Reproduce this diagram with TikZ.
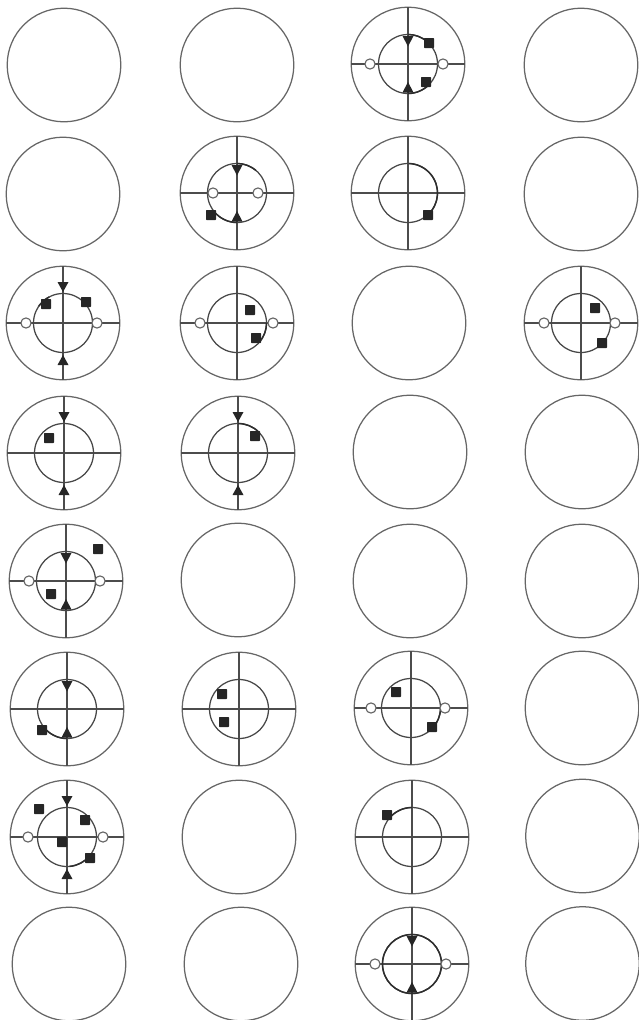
\documentclass[tikz,border=0pt]{standalone}
\tikzset{
  x=1pt,y=1pt,
  outerring/.style={draw=black!60,line width=1.25pt},
  innerring/.style={draw=black!72,line width=1.25pt},
  axis/.style={draw=black!70,line width=1.1pt},
  heavy/.style={draw=black!82,line width=1.5pt},
  sq/.style={fill=black!85,draw=none,rounded corners=0.6pt},
  tri/.style={fill=black!85,draw=none},
  hollow/.style={draw=black!62,line width=1.1pt,fill=white},
  pics/blank/.style={code={\path[outerring] (0,0) circle[radius=56.8];}},
  pics/dial/.style={code={
    \path[outerring] (0,0) circle[radius=56.8];
    \path[axis] (-57,0) -- (57,0) (0,-57) -- (0,57);
    \path[innerring] (0,0) circle[radius=29.5];
  }},
  pics/sqm/.style={code={\fill[sq] (-5,-5) rectangle (5,5);}},
  pics/opn/.style={code={\path[hollow] (0,0) circle[radius=5.1];}},
  pics/trisin/.style={code={
    \fill[tri] (-5.5,28) -- (5.5,28) -- (0,17.5) -- cycle;
    \fill[tri] (-5.5,-28.5) -- (5.5,-28.5) -- (0,-18) -- cycle;
  }},
  pics/trisout/.style={code={
    \fill[tri] (-5.5,41) -- (5.5,41) -- (0,31) -- cycle;
    \fill[tri] (-5.5,-42) -- (5.5,-42) -- (0,-32) -- cycle;
  }},
}
\newcommand{\Blank}[2]{\pic at (#1,-#2) {blank};}
\newcommand{\Dial}[2]{\pic at (#1,-#2) {dial};}
\newcommand{\Sq}[4]{\pic at ({#1+#3},{-#2+#4}) {sqm};}
\newcommand{\Op}[3]{\pic at ({#1+#3},-#2) {opn};}
\newcommand{\Arc}[4]{\path[heavy] ({#1+29.5*cos(#3)},{-#2+29.5*sin(#3)}) arc[start angle=#3,end angle=#4,radius=29.5];}
\begin{document}
\begin{tikzpicture}
\useasboundingbox (0,0) rectangle (639,-1020);
% row 1
\Blank{64}{65}\Blank{237}{65}\Blank{581}{65}
\Dial{408}{64}
\Arc{408}{64}{-90}{-40}\Arc{408}{64}{50}{90}
\Op{408}{64}{-38}\Op{408}{64}{35}
\pic at (408,-64) {trisin};
\Sq{408}{64}{21}{21}\Sq{408}{64}{18}{-18}
% row 2
\Blank{63}{194}\Blank{581}{194}
\Dial{237}{193}
\Arc{237}{193}{-90}{-140}\Arc{237}{193}{50}{90}
\Op{237}{193}{-24}\Op{237}{193}{21}
\pic at (237,-193) {trisin};
\Sq{237}{193}{-26}{-22}
\Dial{408}{193}
\Arc{408}{193}{-48}{88}
\Sq{408}{193}{20}{-22}
% row 3
\Dial{63}{323}
\Arc{63}{323}{118}{145}
\pic at (63,-323) {trisout};
\Op{63}{323}{-37}\Op{63}{323}{34}
\Sq{63}{323}{-17}{19}\Sq{63}{323}{23}{21}
\Dial{237}{323}
\Arc{237}{323}{-40}{0}
\Op{237}{323}{-37}\Op{237}{323}{36}
\Sq{237}{323}{13}{13}\Sq{237}{323}{19}{-15}
\Blank{409}{323}
\Dial{581}{323}
\Op{581}{323}{-37}\Op{581}{323}{34}
\Sq{581}{323}{14}{15}\Sq{581}{323}{21}{-20}
% row 4
\Dial{64}{453}
\pic at (64,-453) {trisout};
\Sq{64}{453}{-15}{15}
\Dial{238}{453}
\Arc{238}{453}{45}{90}
\pic at (238,-453) {trisout};
\Sq{238}{453}{17}{17}
\Blank{410}{452}\Blank{582}{452}
% row 5
\Dial{66}{581}
\pic at (66,-581) {trisin};
\Op{66}{581}{-37}\Op{66}{581}{34}
\Sq{66}{581}{32}{32}\Sq{66}{581}{-15}{-13}
\Blank{238}{580}\Blank{410}{581}\Blank{582}{581}
% row 6
\Dial{67}{709}
\Arc{67}{709}{-90}{-140}
\pic at (67,-709) {trisin};
\Sq{67}{709}{-25}{-21}
\Dial{239}{709}
\Sq{239}{709}{-17}{15}\Sq{239}{709}{-15}{-13}
\Dial{411}{708}
\Arc{411}{708}{-45}{0}
\Op{411}{708}{-40}\Op{411}{708}{34}
\Sq{411}{708}{-15}{16}\Sq{411}{708}{21}{-19}
\Blank{582}{708}
% row 7
\Dial{67}{837}
\Arc{67}{837}{-85}{-40}
\pic at (67,-837) {trisout};
\Op{67}{837}{-39}\Op{67}{837}{36}
\Sq{67}{837}{-28}{28}\Sq{67}{837}{18}{17}
\Sq{67}{837}{-5}{-5}\Sq{67}{837}{23}{-21}
\Blank{239}{837}
\Dial{412}{837}
\Arc{412}{837}{90}{140}
\Sq{412}{837}{-25}{22}
\Blank{582.5}{836}
% row 8
\Blank{69}{964}\Blank{241}{964}
\Dial{412}{964}
\Arc{412}{964}{0}{180}\Arc{412}{964}{180}{360}
\pic at (412,-964) {trisin};
\Op{412}{964}{-37}\Op{412}{964}{34}
\Blank{582.5}{963.5}
\end{tikzpicture}
\end{document}
